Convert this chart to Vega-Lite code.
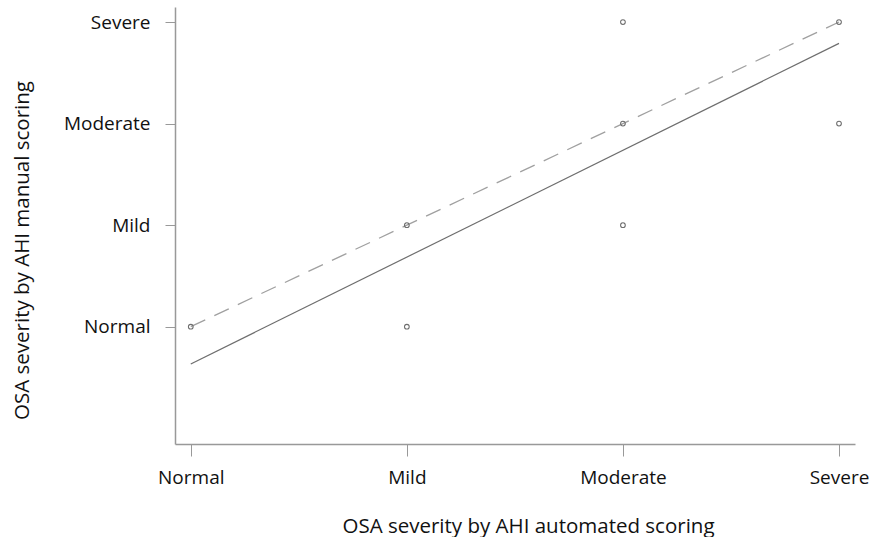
{
  "$schema": "https://vega.github.io/schema/vega-lite/v6.json",
  "width": 680,
  "height": 437,
  "autosize": {"type": "none"},
  "padding": {"left": 175, "top": 7, "right": 23, "bottom": 93},
  "background": "white",
  "config": {
    "view": {"stroke": null},
    "font": "Open Sans"
  },
  "datasets": {
    "points": [
      {"auto": 1, "manual": 1},
      {"auto": 2, "manual": 2},
      {"auto": 2, "manual": 1},
      {"auto": 3, "manual": 4},
      {"auto": 3, "manual": 3},
      {"auto": 3, "manual": 2},
      {"auto": 4, "manual": 4},
      {"auto": 4, "manual": 3}
    ],
    "lines": [
      {"line": "identity", "auto": 1, "manual": 1},
      {"line": "identity", "auto": 4, "manual": 4},
      {"line": "fit", "auto": 1, "manual": 0.633},
      {"line": "fit", "auto": 4, "manual": 3.79}
    ]
  },
  "layer": [
    {
      "data": {"name": "lines"},
      "transform": [{"filter": "datum.line == 'identity'"}],
      "mark": {"type": "line", "color": "#a0a0a0", "strokeWidth": 1.3, "strokeDash": [16, 10], "clip": false},
      "encoding": {
        "x": {"field": "auto", "type": "quantitative"},
        "y": {"field": "manual", "type": "quantitative"}
      }
    },
    {
      "data": {"name": "lines"},
      "transform": [{"filter": "datum.line == 'fit'"}],
      "mark": {"type": "line", "color": "#6e6e6e", "strokeWidth": 1.2, "clip": false},
      "encoding": {
        "x": {"field": "auto", "type": "quantitative"},
        "y": {"field": "manual", "type": "quantitative"}
      }
    },
    {
      "data": {"name": "points"},
      "mark": {"type": "point", "shape": "circle", "filled": false, "color": "#6e6e6e", "size": 22, "strokeWidth": 1.1, "opacity": 1},
      "encoding": {
        "x": {
          "field": "auto",
          "type": "quantitative",
          "scale": {"domain": [0.927, 4.074], "nice": false, "zero": false},
          "axis": {
            "values": [1, 2, 3, 4],
            "labelExpr": "['', 'Normal', 'Mild', 'Moderate', 'Severe'][datum.value]",
            "title": "OSA severity by AHI automated scoring",
            "grid": false,
            "domainColor": "#999999",
            "domainWidth": 1.5,
            "tickColor": "#999999",
            "tickSize": 12,
            "tickWidth": 1,
            "labelFontSize": 19,
            "labelColor": "#111111",
            "labelPadding": 12,
            "labelFont": "Open Sans",
            "titleFont": "Open Sans",
            "titleFontSize": 20.5,
            "titleFontWeight": "normal",
            "titleColor": "#111111",
            "titleBaseline": "alphabetic",
            "titleX": 353,
            "titleY": 88
          }
        },
        "y": {
          "field": "manual",
          "type": "quantitative",
          "scale": {"domain": [-0.155, 4.148], "nice": false, "zero": false},
          "axis": {
            "values": [1, 2, 3, 4],
            "labelExpr": "['', 'Normal', 'Mild', 'Moderate', 'Severe'][datum.value]",
            "title": "OSA severity by AHI manual scoring",
            "grid": false,
            "domainColor": "#999999",
            "domainWidth": 1.5,
            "tickColor": "#999999",
            "tickSize": 10,
            "tickWidth": 1,
            "labelFontSize": 19,
            "labelColor": "#111111",
            "labelPadding": 15,
            "labelFont": "Open Sans",
            "titleFont": "Open Sans",
            "titleFontSize": 20.5,
            "titleFontWeight": "normal",
            "titleColor": "#111111",
            "titleBaseline": "alphabetic",
            "titleAngle": -90,
            "titleX": -147,
            "titleY": 243
          }
        }
      }
    }
  ]
}
